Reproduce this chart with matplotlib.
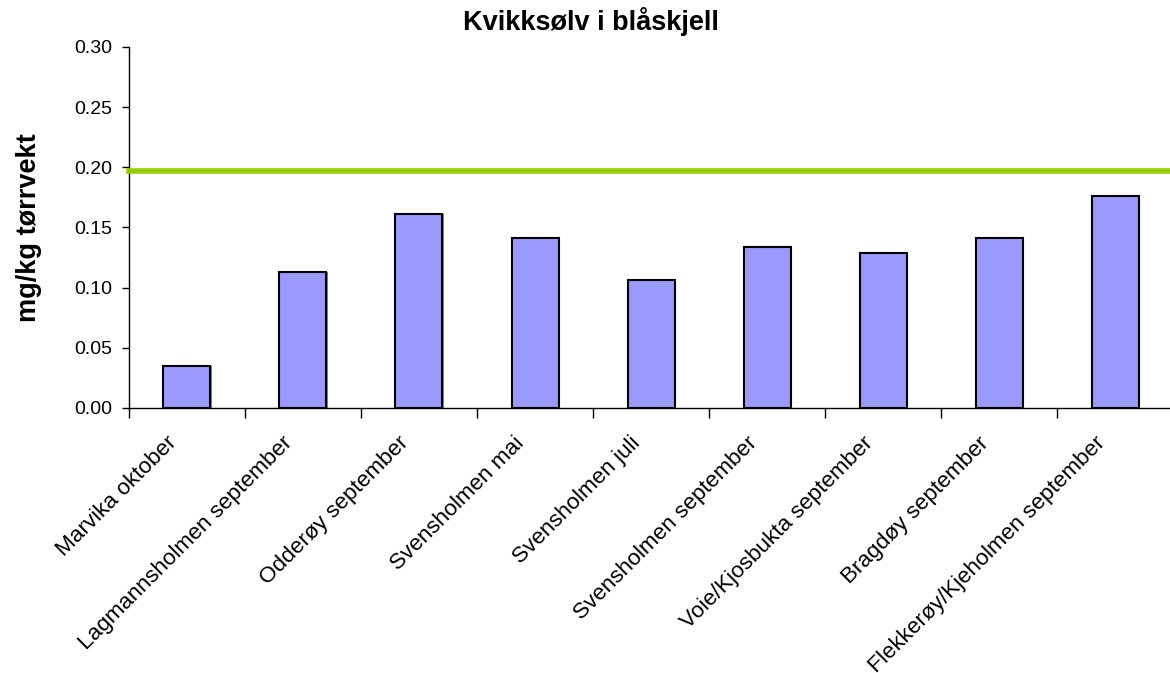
import matplotlib
matplotlib.use("Agg")
import matplotlib.pyplot as plt
import matplotlib.transforms as mtransforms
import numpy as np

categories = ["Marvika oktober", "Lagmannsholmen september", "Odderøy september",
              "Svensholmen mai", "Svensholmen juli", "Svensholmen september",
              "Voie/Kjosbukta september", "Bragdøy september",
              "Flekkerøy/Kjeholmen september"]
values = [0.035, 0.113, 0.161, 0.141, 0.106, 0.134, 0.129, 0.141, 0.176]
limit_value = 0.197
yticks = [0.00, 0.05, 0.10, 0.15, 0.20, 0.25, 0.30]

plt.rcParams['font.family'] = ['Liberation Sans', 'DejaVu Sans']

fig = plt.figure(figsize=(11.7, 6.73), dpi=100)
ax = fig.add_axes([0.110, 0.3938, 0.893, 0.5365])

x = np.arange(len(categories))
ax.bar(x + 0.012, values, width=0.405, color='#808080', edgecolor='none', zorder=1)
ax.bar(x, values, width=0.405, color='#9999FF', edgecolor='black', linewidth=1.5, zorder=2)
ax.axhline(limit_value, color='#99CC00', linewidth=4, zorder=3, clip_on=False)

ax.set_xlim(-0.5, len(categories) - 0.5)
ax.set_ylim(0, 0.30)
ax.set_yticks(yticks)
ax.set_yticklabels([f"{v:.2f}" for v in yticks], fontsize=14)
ax.set_xticks(np.arange(len(categories) + 1) - 0.5, minor=False)
ax.set_xticklabels([])
ax.tick_params(axis='x', which='major', length=7, width=1, direction='out')
ax.tick_params(axis='y', length=5, width=1, direction='out', pad=7)
ax.set_xticks(x, minor=True)
ax.set_xticklabels(categories, minor=True, rotation=45, ha='right',
                   rotation_mode='anchor', fontsize=16.2)
ax.tick_params(axis='x', which='minor', length=0, pad=12)
offset = mtransforms.ScaledTranslation(-21 / 100, -8 / 100, fig.dpi_scale_trans)
for lbl in ax.get_xticklabels(minor=True):
    lbl.set_transform(lbl.get_transform() + offset)

for s in ['top', 'right']:
    ax.spines[s].set_visible(False)
ax.spines['left'].set_linewidth(1)
ax.spines['bottom'].set_linewidth(1)

fig.text(0.505, 1 - 21 / 673, "Kvikksølv i blåskjell", fontsize=19.5, fontweight='bold',
         ha='center', va='center')
fig.text(29 / 1170, 1 - 228 / 673, "mg/kg tørrvekt", fontsize=19.5, fontweight='bold',
         ha='center', va='center', rotation=90)

fig.savefig("out.png", dpi=100)
